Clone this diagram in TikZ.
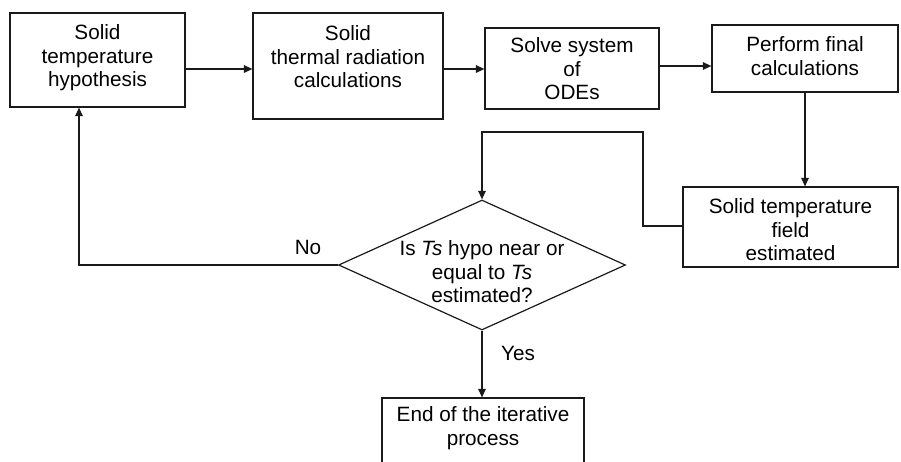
\documentclass[tikz,border=0pt]{standalone}
\usepackage{fontspec}
\setmainfont{Liberation Sans}
\usetikzlibrary{arrows.meta,shapes.geometric}
\definecolor{ln}{HTML}{1A1A1A}
\begin{document}
\begin{tikzpicture}[x=1pt,y=-1pt,
  box/.style={draw=ln, line width=1.2pt, inner sep=0pt},
  txt/.style={align=center, inner sep=0pt, font=\fontsize{20.7}{23.5}\selectfont},
  lbl/.style={inner sep=0pt, font=\fontsize{20.7}{23.5}\selectfont},
  conn/.style={draw=ln, line width=1.2pt},
  arr/.style={conn, -{Triangle[length=8.5pt,width=7.5pt]}}]
\useasboundingbox (0,0) rectangle (901,461);
\clip (0,0) rectangle (901,461);
% boxes
\node[box, minimum width=175pt, minimum height=94pt]  (b1) at (97.5,60) {};
\node[box, minimum width=190pt, minimum height=106pt] (b2) at (348,66) {};
\node[box, minimum width=174pt, minimum height=81pt]  (b3) at (572,68.5) {};
\node[box, minimum width=186pt, minimum height=67pt]  (b4) at (805,58.5) {};
\node[box, minimum width=215pt, minimum height=80pt]  (b5) at (790.5,227) {};
\node[box, diamond, minimum width=287pt, minimum height=130pt] (dc) at (482,265) {};
\node[box, minimum width=202pt, minimum height=68pt]  (b6) at (483,432) {};
% texts
\node[txt] (t1) at (97.5,58) {Solid\\temperature\\hypothesis};
\node[txt] (t2) at (348,57) {Solid\\thermal radiation\\calculations};
\node[txt] (t3) at (572,69) {Solve system\\of\\ODEs};
\node[txt] (t4) at (805,56) {Perform final\\calculations};
\node[txt] (t5) at (790.5,230) {Solid temperature\\field\\estimated};
\node[txt] (td) at (482,272) {Is \textit{Ts} hypo near or\\equal to \textit{Ts}\\estimated?};
\node[txt] (t6) at (483,428) {End of the iterative\\process};
\node[lbl] (no) at (308,247) {No};
\node[lbl] (yes) at (518,353) {Yes};
% connectors
\draw[arr] (b1.east |- 0,69) -- (b2.west |- 0,69);
\draw[arr] (b2.east |- 0,69) -- (b3.west |- 0,69);
\draw[arr] (b3.east |- 0,66) -- (b4.west |- 0,66);
\draw[arr] (b4.south) -- (b4.south |- b5.north);
\coordinate (f1) at (643,226);
\coordinate (f2) at (643,132);
\coordinate (f3) at (482,132);
\draw[arr] (b5.west |- f1) -- (f1) -- (f2) -- (f3) -- (dc.north);
\coordinate (n1) at (79,265);
\draw[arr] (dc.west) -- (n1) -- (b1.south -| n1);
\draw[arr] (dc.south) -- (b6.north -| dc.south);
\end{tikzpicture}
\end{document}
